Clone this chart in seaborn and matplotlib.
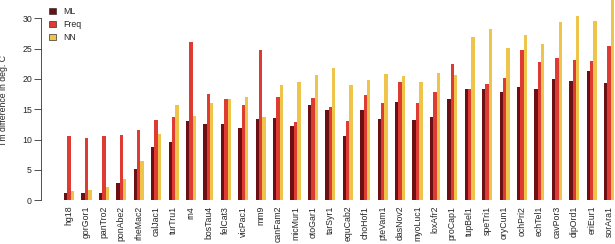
import pandas as pd
import matplotlib
matplotlib.use("Agg")
import matplotlib.pyplot as plt
import seaborn as sns

# --- data ---
species = ["hg18", "gorGor1", "panTro2", "ponAbe2", "rheMac2", "calJac1", "turTru1",
           "rn4", "bosTau4", "felCat3", "vicPac1", "mm9", "canFam2", "micMur1",
           "otoGar1", "tarSyr1", "equCab2", "choHof1", "pteVam1", "dasNov2",
           "myoLuc1", "loxAfr2", "proCap1", "tupBel1", "speTri1", "oryCun1",
           "ochPri2", "echTel1", "cavPor3", "dipOrd1", "eriEur1", "sorAra1"]

ml = [1.2, 1.2, 1.2, 2.9, 5.1, 8.85, 9.55, 13.1, 12.6, 12.6, 11.9, 13.35, 13.6, 12.25,
      15.7, 14.8, 10.6, 14.8, 13.45, 16.2, 13.3, 13.8, 16.65, 18.35, 18.3, 17.8,
      18.6, 18.3, 19.95, 19.7, 21.3, 19.3]
freq = [10.65, 10.3, 10.65, 10.75, 11.6, 13.2, 13.8, 26.0, 17.5, 16.75, 15.65, 24.7, 17.0,
        12.85, 16.8, 15.4, 13.1, 17.4, 16.0, 19.5, 16.0, 17.85, 22.5, 18.35, 19.1,
        20.2, 24.7, 22.85, 23.4, 23.1, 22.95, 25.5]
nn = [1.45, 1.75, 2.25, 3.55, 6.55, 11.0, 15.65, 13.9, 16.1, 16.75, 17.0, 13.7, 19.0,
      19.55, 20.6, 21.8, 19.0, 19.9, 20.8, 20.5, 19.55, 21.0, 20.7, 26.9, 28.2,
      25.05, 27.25, 25.7, 29.4, 30.4, 29.6, 34.0]

methods = ["ML", "Freq", "NN"]
colors = ["#6d1014", "#de3c33", "#efc44a"]

df = pd.DataFrame({
    "species": species * 3,
    "method": ["ML"] * len(species) + ["Freq"] * len(species) + ["NN"] * len(species),
    "tm": ml + freq + nn,
})

sns.set_style("white")
plt.rcParams["font.family"] = ["Liberation Sans", "DejaVu Sans"]

fig = plt.figure(figsize=(6.15, 2.44), dpi=100)
ax = fig.add_axes([41 / 615, 1 - 200.3 / 244, 1 - 41 / 615, 200.3 / 244])

sns.barplot(data=df, x="species", y="tm", hue="method", hue_order=methods,
            order=species, palette=colors, width=0.58, saturation=1,
            linewidth=0, ax=ax)

ax.set_xlim(-1.61, len(species) - 1 + 0.34)
ax.set_ylim(0, 33.0)

for s in ["top", "right", "bottom"]:
    ax.spines[s].set_visible(False)
ax.spines["left"].set_bounds(0, 30)
ax.spines["left"].set_linewidth(0.6)
ax.spines["left"].set_color("#333333")

ax.set_yticks([0, 5, 10, 15, 20, 25, 30])
ax.tick_params(axis="y", direction="out", length=5, width=0.6, color="#333333",
               pad=1.5, labelsize=6.3, left=True)
ax.tick_params(axis="x", length=0, pad=4, labelsize=6.3, rotation=90)
for lbl in ax.get_xticklabels():
    lbl.set_va("top")

ax.set_xlabel("")
ax.set_ylabel("Tm difference in deg. C", fontsize=6.3)
ax.yaxis.set_label_coords(-0.058, 0.5)

handles, labels = ax.get_legend_handles_labels()
for h in handles:
    h.set_edgecolor("#333333")
    h.set_linewidth(0.5)
ax.legend(handles, labels, loc="upper left", bbox_to_anchor=(49 / 615, 1 - 7 / 244),
          bbox_transform=fig.transFigure, frameon=False, fontsize=6.3,
          handlelength=0.75, handleheight=0.75, handletextpad=0.9,
          labelspacing=0.45, borderpad=0, borderaxespad=0)

fig.savefig("out.png", dpi=100)
